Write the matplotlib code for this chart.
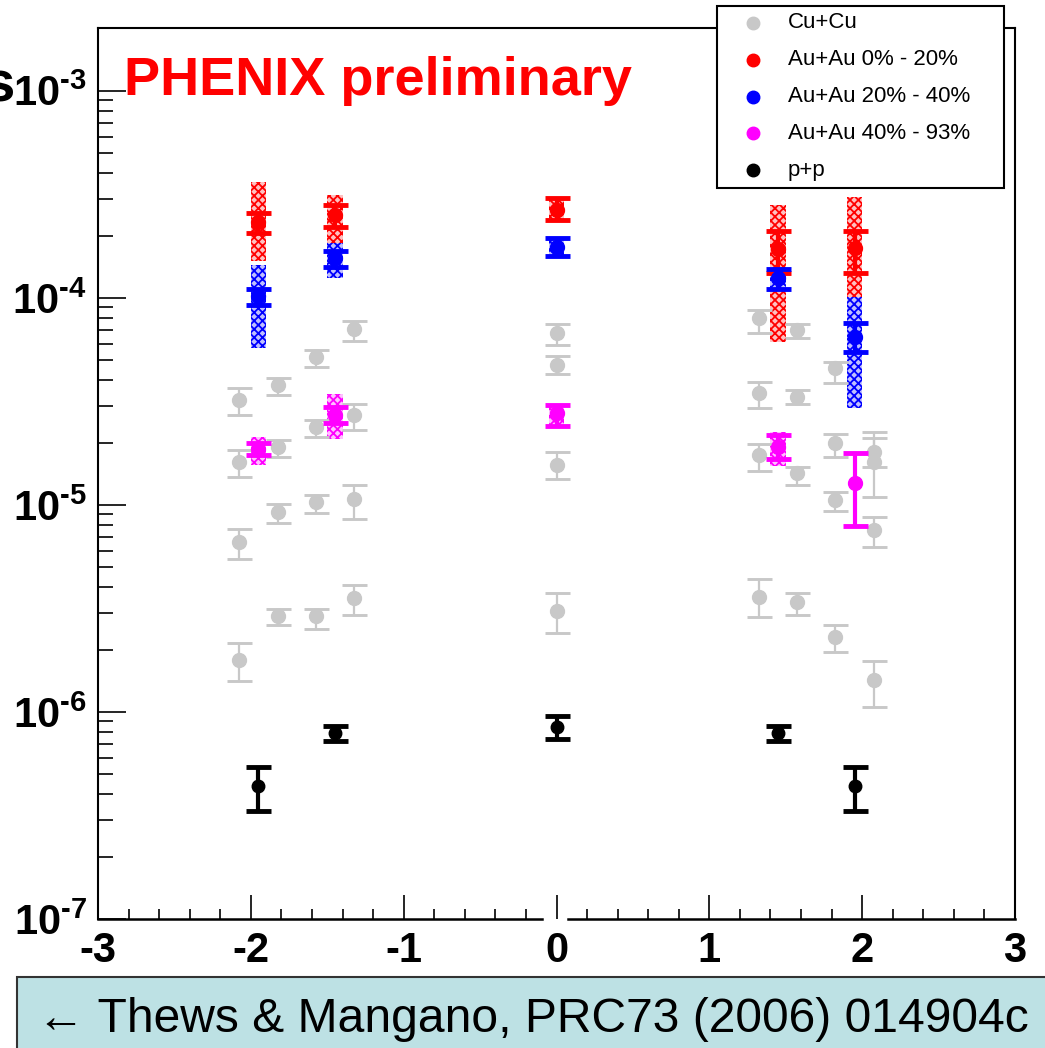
import numpy as np
import matplotlib
matplotlib.use('Agg')
from matplotlib import pyplot as plt
from matplotlib.patches import Rectangle
from matplotlib.lines import Line2D
from matplotlib.ticker import MultipleLocator, LogLocator, FuncFormatter, NullFormatter
import matplotlib.transforms as mtransforms

plt.rcParams['font.family'] = ['Liberation Sans', 'DejaVu Sans']
# mathtext only used for the bold 10^-n tick labels
plt.rcParams['mathtext.fontset'] = 'custom'
plt.rcParams['mathtext.rm'] = 'Liberation Sans:bold'
plt.rcParams['mathtext.it'] = 'Liberation Sans:bold'
plt.rcParams['mathtext.bf'] = 'Liberation Sans:bold'
plt.rcParams['hatch.linewidth'] = 1.3

# ---- data ----
# Cu+Cu (gray), value / lower cap / upper cap
cu_x = [-2.075, -2.075, -2.075, -2.075,
        -1.825, -1.825, -1.825, -1.825,
        -1.575, -1.575, -1.575, -1.575,
        -1.325, -1.325, -1.325, -1.325,
        0.0, 0.0, 0.0, 0.0,
        1.325, 1.325, 1.325, 1.325,
        1.575, 1.575, 1.575, 1.575,
        1.825, 1.825, 1.825, 1.825,
        2.075, 2.075, 2.075, 2.075]
cu_y = [3.22e-5, 1.61e-5, 6.63e-6, 1.78e-6,
        3.80e-5, 1.91e-5, 9.25e-6, 2.91e-6,
        5.19e-5, 2.38e-5, 1.03e-5, 2.91e-6,
        7.08e-5, 2.72e-5, 1.07e-5, 3.55e-6,
        6.78e-5, 4.75e-5, 1.56e-5, 3.08e-6,
        8.00e-5, 3.48e-5, 1.74e-5, 3.59e-6,
        7.00e-5, 3.32e-5, 1.43e-5, 3.40e-6,
        4.59e-5, 1.99e-5, 1.06e-5, 2.30e-6,
        1.80e-5, 1.61e-5, 7.57e-6, 1.43e-6]
cu_lo = [2.72e-5, 1.37e-5, 5.48e-6, 1.41e-6,
         3.40e-5, 1.71e-5, 8.19e-6, 2.63e-6,
         4.64e-5, 2.13e-5, 9.14e-6, 2.52e-6,
         6.20e-5, 2.30e-5, 8.56e-6, 2.94e-6,
         5.93e-5, 4.30e-5, 1.34e-5, 2.41e-6,
         6.78e-5, 2.94e-5, 1.46e-5, 2.88e-6,
         6.41e-5, 3.08e-5, 1.25e-5, 2.94e-6,
         3.88e-5, 1.71e-5, 9.35e-6, 1.95e-6,
         1.53e-5, 1.09e-5, 6.27e-6, 1.06e-6]
cu_hi = [3.67e-5, 1.84e-5, 7.66e-6, 2.15e-6,
         4.11e-5, 2.06e-5, 1.01e-5, 3.15e-6,
         5.61e-5, 2.58e-5, 1.12e-5, 3.15e-6,
         7.74e-5, 3.08e-5, 1.25e-5, 4.11e-6,
         7.49e-5, 5.25e-5, 1.80e-5, 3.76e-6,
         8.75e-5, 3.93e-5, 1.97e-5, 4.39e-6,
         7.49e-5, 3.59e-5, 1.53e-5, 3.76e-6,
         4.91e-5, 2.20e-5, 1.16e-5, 2.63e-6,
         2.25e-5, 2.11e-5, 8.75e-6, 1.76e-6]

# Au+Au and p+p share the same rapidity points
au_x = [-1.95, -1.45, 0.0, 1.45, 1.95]

red_y = [2.33e-4, 2.52e-4, 2.66e-4, 1.73e-4, 1.74e-4]
red_lo = [2.06e-4, 2.20e-4, 2.38e-4, 1.32e-4, 1.32e-4]
red_hi = [2.58e-4, 2.81e-4, 3.04e-4, 2.11e-4, 2.11e-4]
red_sys_lo = [1.50e-4, 1.84e-4, 2.38e-4, 6.13e-5, 1.01e-4]
red_sys_hi = [3.63e-4, 3.15e-4, 3.04e-4, 2.81e-4, 3.08e-4]

blue_y = [1.02e-4, 1.56e-4, 1.76e-4, 1.24e-4, 6.48e-5]
blue_lo = [9.25e-5, 1.41e-4, 1.60e-4, 1.10e-4, 5.48e-5]
blue_hi = [1.10e-4, 1.69e-4, 1.95e-4, 1.38e-4, 7.57e-5]
blue_sys_lo = [5.73e-5, 1.25e-4, 1.60e-4, 1.10e-4, 2.94e-5]
blue_sys_hi = [1.44e-4, 1.84e-4, 1.95e-4, 1.38e-4, 1.01e-4]

mag_y = [1.86e-5, 2.72e-5, 2.78e-5, 1.91e-5, 1.28e-5]
mag_lo = [1.74e-5, 2.49e-5, 2.41e-5, 1.67e-5, 7.92e-6]
mag_hi = [1.99e-5, 2.97e-5, 3.04e-5, 2.18e-5, 1.78e-5]
mag_sys_lo = [1.56e-5, 2.08e-5, 2.41e-5, 1.54e-5, np.nan]
mag_sys_hi = [2.13e-5, 3.44e-5, 3.04e-5, 2.25e-5, np.nan]

pp_y = [4.39e-7, 7.92e-7, 8.46e-7, 7.92e-7, 4.39e-7]
pp_lo = [3.32e-7, 7.24e-7, 7.41e-7, 7.24e-7, 3.32e-7]
pp_hi = [5.42e-7, 8.56e-7, 9.57e-7, 8.56e-7, 5.42e-7]

legend_labels = ['Cu+Cu', 'Au+Au 0% - 20%', 'Au+Au 20% - 40%', 'Au+Au 40% - 93%', 'p+p']
legend_colors = ['#c8c8c8', '#ff0000', '#0000ff', '#ff00ff', '#000000']
x_ticks = [-3, -2, -1, 0, 1, 2, 3]
caption = '\u2190 Thews & Mangano, PRC73 (2006) 014904c'

W, H = 1045, 1048
fig = plt.figure(figsize=(W / 100, H / 100), dpi=100)
ax = fig.add_axes([98 / W, 1 - 919 / H, (1015 - 98) / W, (919 - 28) / H])
ax.set_yscale('log')
ax.set_xlim(-3, 3)
ax.set_ylim(1e-7, 2.01e-3)


def sys_boxes(x, lo, hi, color, face):
    x = np.asarray(x)
    lo = np.asarray(lo, dtype=float)
    hi = np.asarray(hi, dtype=float)
    ok = ~np.isnan(lo)
    ax.bar(x[ok], hi[ok] - lo[ok], bottom=lo[ok], width=0.1, color=face,
           edgecolor=color, hatch='xxxx', linewidth=0, zorder=2)


def points(x, y, lo, hi, color, lw, ms, z):
    y = np.asarray(y)
    err = [y - np.asarray(lo), np.asarray(hi) - y]
    ax.errorbar(x, y, yerr=err, fmt='o', color=color, ms=ms, elinewidth=lw,
                capsize=9, capthick=lw + 0.5, zorder=z)


# gray Cu+Cu underneath
points(cu_x, cu_y, cu_lo, cu_hi, legend_colors[0], 1.6, 10, 3)

# systematic boxes
sys_boxes(au_x, red_sys_lo, red_sys_hi, legend_colors[1], '#ffc0c0')
sys_boxes(au_x, blue_sys_lo, blue_sys_hi, legend_colors[2], '#c0c0ff')
sys_boxes(au_x, mag_sys_lo, mag_sys_hi, legend_colors[3], '#ffc0ff')

points(au_x, red_y, red_lo, red_hi, legend_colors[1], 3, 10, 4)
points(au_x, blue_y, blue_lo, blue_hi, legend_colors[2], 3, 10, 5)
points(au_x, mag_y, mag_lo, mag_hi, legend_colors[3], 3, 10, 5)
points(au_x, pp_y, pp_lo, pp_hi, legend_colors[4], 3, 9, 5)

# axes styling (ROOT-like, ticks inside, left/bottom only)
ax.xaxis.set_major_locator(MultipleLocator(1))
ax.xaxis.set_minor_locator(MultipleLocator(0.2))
ax.xaxis.set_major_formatter(FuncFormatter(lambda v, p: '%d' % round(v)))
ax.yaxis.set_major_locator(LogLocator(base=10))
ax.yaxis.set_minor_locator(LogLocator(base=10, subs=np.arange(2, 10)))
ax.yaxis.set_major_formatter(
    FuncFormatter(lambda v, p: r'$10^{\text{-%d}}$' % abs(round(np.log10(v)))))
ax.yaxis.set_minor_formatter(NullFormatter())
ax.tick_params(axis='x', which='major', direction='in', length=17, width=1.2,
               labelsize=30, pad=9, top=False)
ax.tick_params(axis='x', which='minor', direction='in', length=7.5, width=1.2, top=False)
ax.tick_params(axis='y', which='major', direction='in', length=20, width=1.2,
               labelsize=30, pad=8, right=False)
ax.tick_params(axis='y', which='minor', direction='in', length=11, width=1.2, right=False)
ax.set_xticks(x_ticks)
plt.setp(ax.get_xticklabels(), fontweight='bold')
for s in ['left', 'top', 'right']:
    ax.spines[s].set_linewidth(1.5)

# bottom axis line is broken around zero
ax.spines['bottom'].set_visible(False)
trans = mtransforms.blended_transform_factory(ax.transData, ax.transAxes)
ax.plot([-3, -0.095], [0, 0], color='black', lw=1.8, transform=trans, clip_on=False)
ax.plot([0.075, 3], [0, 0], color='black', lw=1.8, transform=trans, clip_on=False)

fig.text(124 / W, 1 - 95 / H, 'PHENIX preliminary', color='#ff0000', fontsize=39,
         fontweight='bold', va='baseline')
# tail of a cut-off label at the left edge
fig.text(15 / W, 1 - 101 / H, 's', fontsize=42, fontweight='bold', ha='right', va='baseline')

# legend box sitting over the top frame
fig.add_artist(Rectangle((717 / W, 1 - 188 / H), (1004 - 717) / W, (188 - 6) / H,
                         transform=fig.transFigure, facecolor='white',
                         edgecolor='black', lw=1.5, zorder=5))
for i, (lab, col) in enumerate(zip(legend_labels, legend_colors)):
    yy = 1 - (23 + 36.8 * i) / H
    fig.add_artist(Line2D([753 / W], [yy], marker='o', color=col, ms=9,
                          transform=fig.transFigure, zorder=6))
    fig.text(788 / W, yy, lab, fontsize=16, va='center', zorder=6)

# reference caption at the bottom
fig.add_artist(Rectangle((17 / W, -0.01), 1.0, (1048 - 977) / H + 0.01,
                         transform=fig.transFigure, facecolor='#bde1e4',
                         edgecolor='#333333', lw=1.5, zorder=5))
fig.text(37 / W, 1 - 1019 / H, caption, fontsize=34.6, va='center', zorder=6)

fig.savefig('out.png', dpi=100)
